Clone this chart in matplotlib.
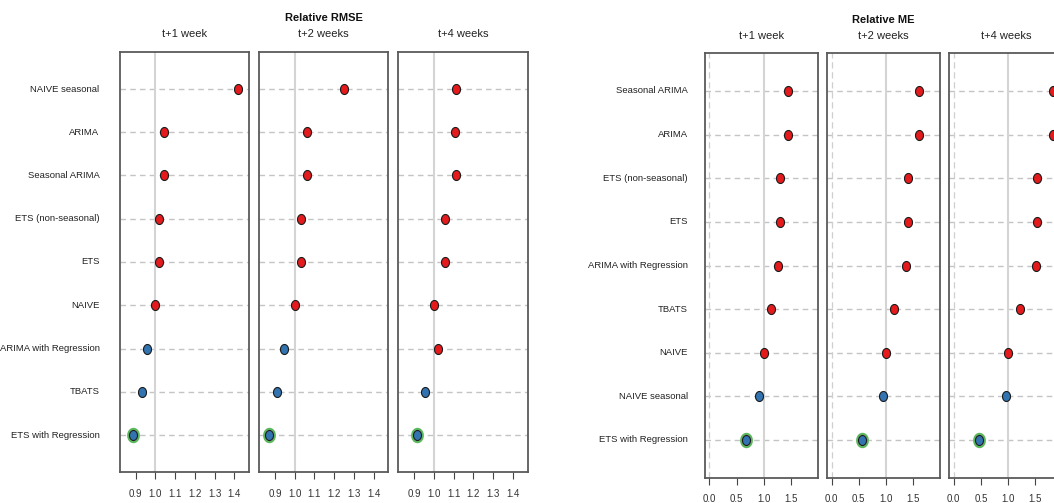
import numpy as np
import matplotlib
matplotlib.use('Agg')
import matplotlib.pyplot as plt
from matplotlib.path import Path

plt.rcParams['font.family'] = ['Liberation Sans', 'DejaVu Sans']

# relative RMSE, models listed top to bottom
rmse_models = ['NAIVE seasonal', 'ARIMA', 'Seasonal ARIMA', 'ETS (non-seasonal)', 'ETS',
               'NAIVE', 'ARIMA with Regression', 'TBATS', 'ETS with Regression']
rmse_1w = [1.42, 1.043, 1.044, 1.02, 1.02, 1.00, 0.956, 0.931, 0.887]
rmse_2w = [1.25, 1.063, 1.064, 1.034, 1.034, 1.00, 0.948, 0.911, 0.872]
rmse_4w = [1.114, 1.105, 1.111, 1.057, 1.057, 1.00, 1.02, 0.958, 0.916]
rmse_ticks = [0.9, 1.0, 1.1, 1.2, 1.3, 1.4]

# relative ME, models listed top to bottom
me_models = ['Seasonal ARIMA', 'ARIMA', 'ETS (non-seasonal)', 'ETS', 'ARIMA with Regression',
             'TBATS', 'NAIVE', 'NAIVE seasonal', 'ETS with Regression']
me_1w = [1.44, 1.44, 1.305, 1.305, 1.263, 1.13, 1.00, 0.914, 0.669]
me_2w = [1.62, 1.62, 1.40, 1.40, 1.368, 1.147, 1.00, 0.94, 0.564]
me_4w = [1.82, 1.82, 1.525, 1.525, 1.507, 1.216, 1.00, 0.958, 0.458]
me_ticks = [0.0, 0.5, 1.0, 1.5]

horizons = ['t+1 week', 't+2 weeks', 't+4 weeks']

RED = '#e41a1c'
BLUE = '#3274b2'
GREEN = '#5cb85c'

W, H = 1054, 503

# slightly tall ellipse for the dots
t = np.linspace(0, 2 * np.pi, 60)
ellipse = Path(np.column_stack([0.8 * np.cos(t), np.sin(t)]), closed=True)


def px_axes(fig, x0, x1, y0, y1):
    return fig.add_axes([x0 / W, 1 - y1 / H, (x1 - x0) / W, (y1 - y0) / H])


def dot_panel(ax, values, xlim, ticks, zero_line=False):
    n = len(values)
    ys = np.arange(n, 0, -1)
    ax.set_xlim(*xlim)
    ax.set_ylim(0.14, n + 0.86)
    for y in ys:
        ax.axhline(y, color='#c4c4c4', lw=1.0, ls=(0, (4, 3)), zorder=1)
    ax.axvline(1.0, color='#d4d4d4', lw=1.5, zorder=1)
    if zero_line:
        ax.axvline(0.0, color='#cfcfcf', lw=0.9, ls=(0, (5, 3)), zorder=1)
    vals = np.array(values)
    cols = [RED if v >= 1 else BLUE for v in vals]
    for v, y, c in zip(vals, ys, cols):
        ax.plot(v, y, marker=ellipse, ms=7.2, mfc=c, mec='#1a1a1a', mew=0.8,
                ls='none', zorder=4)
    best = np.argmin(vals)
    ax.plot(vals[best], ys[best], marker=ellipse, ms=9.5, mfc='none', mec=GREEN,
            mew=1.6, ls='none', zorder=3)
    ax.set_yticks([])
    ax.set_xticks(ticks)
    ax.set_xticklabels(['%.1f' % x for x in ticks])
    ax.tick_params(axis='x', length=5, width=0.8, color='#444444', pad=7,
                   labelsize=7, labelcolor='#333333')
    for s in ax.spines.values():
        s.set_color('#5a5a5a')
        s.set_linewidth(1.3)


def model_labels(fig, names, x_right, y_top_row, y_bottom_row):
    n = len(names)
    step = (y_bottom_row - y_top_row) / (n - 1)
    for i, name in enumerate(names):
        fig.text(x_right / W, 1 - (y_top_row + i * step) / H, name, ha='right',
                 va='center', fontsize=6.8, color='#222222')


fig = plt.figure(figsize=(10.54, 5.03), dpi=100)

# left block: relative RMSE
rmse_cols = [(120, 249), (259.3, 388.3), (398.3, 527.7)]
for (x0, x1), vals, hz in zip(rmse_cols, [rmse_1w, rmse_2w, rmse_4w], horizons):
    ax = px_axes(fig, x0, x1, 51.7, 472.3)
    dot_panel(ax, vals, (0.821, 1.474), rmse_ticks)
    fig.text((x0 + x1) / 2 / W, 1 - 34 / H, hz, ha='center', va='center',
             fontsize=8, color='#222222')
fig.text(323.7 / W, 1 - 18 / H, 'Relative RMSE', ha='center', va='center',
         fontsize=8, fontweight='bold', color='#111111')
model_labels(fig, rmse_models, 99.5, 89, 435)

# right block: relative ME
me_cols = [(705, 818.3), (827.3, 940), (949.3, 1062.6)]
for (x0, x1), vals, hz in zip(me_cols, [me_1w, me_2w, me_4w], horizons):
    ax = px_axes(fig, x0, x1, 53.3, 477.7)
    dot_panel(ax, vals, (-0.079, 1.998), me_ticks, zero_line=True)
    fig.text((x0 + x1) / 2 / W, 1 - 36 / H, hz, ha='center', va='center',
             fontsize=8, color='#222222')
fig.text(883.7 / W, 1 - 20 / H, 'Relative ME', ha='center', va='center',
         fontsize=8, fontweight='bold', color='#111111')
model_labels(fig, me_models, 688, 90.7, 440)

fig.savefig('out.png', dpi=100)
